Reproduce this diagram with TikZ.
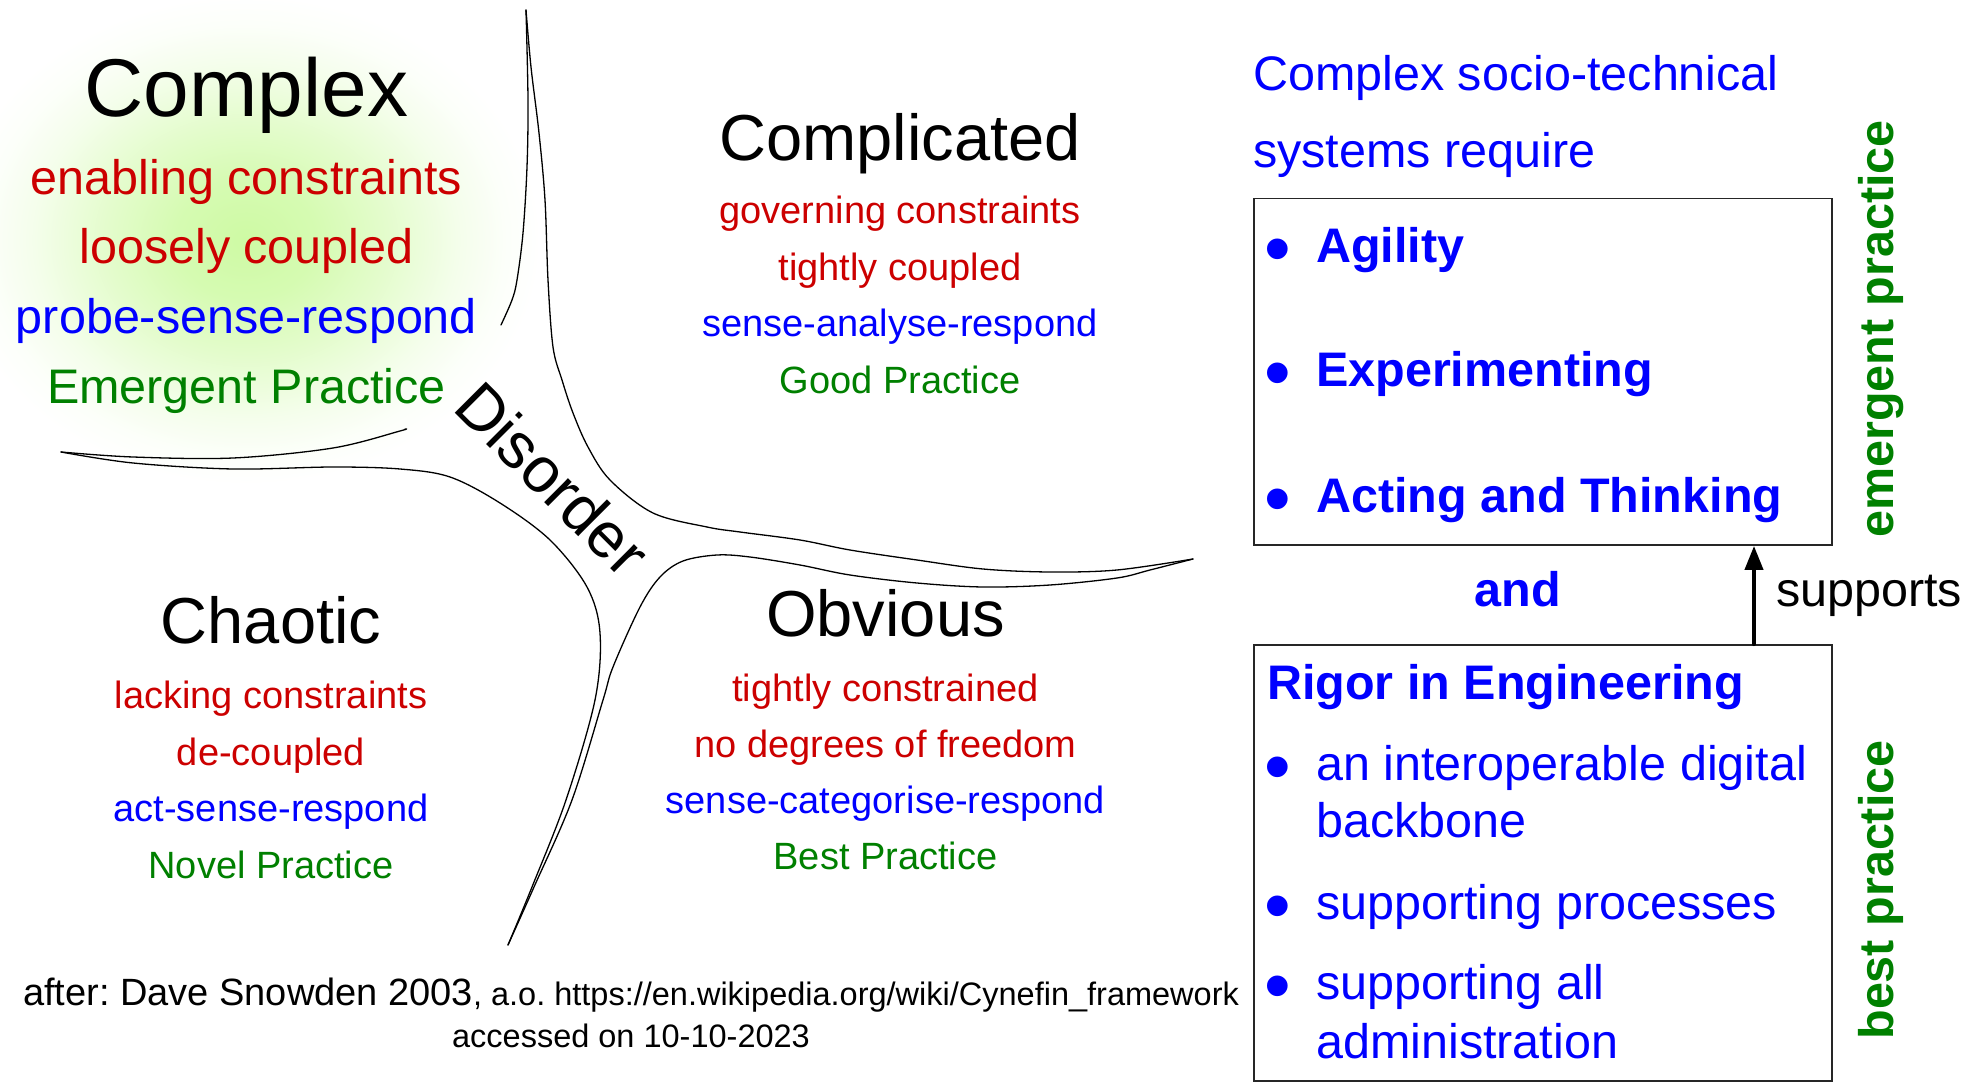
\documentclass[tikz,border=0pt]{standalone}
\usepackage{fontspec}
\setmainfont{Liberation Sans}
\usetikzlibrary{arrows.meta}
\definecolor{cred}{RGB}{204,0,0}
\definecolor{cblue}{RGB}{0,0,255}
\definecolor{cgreen}{RGB}{0,128,0}
\definecolor{glowc}{RGB}{206,250,164}
\pgfdeclareradialshading{glow}{\pgfpoint{0bp}{0bp}}{color(0bp)=(glowc); color(6bp)=(glowc!85!white); color(12bp)=(glowc!55!white); color(18bp)=(glowc!22!white); color(22bp)=(glowc!6!white); color(25bp)=(white); color(50bp)=(white)}
\tikzset{
  lbl/.style={inner sep=0pt, anchor=base},
  hd/.style={lbl, font=\fontsize{65}{70}\selectfont},
  sm/.style={lbl, font=\fontsize{38}{42}\selectfont},
  md/.style={lbl, font=\fontsize{48.5}{52}\selectfont},
  mdb/.style={lbl, font=\fontsize{48.5}{52}\selectfont\bfseries},
  bul/.style={lbl, text=cblue, font=\fontsize{76}{80}\selectfont},
  lft/.style={anchor=base west},
  rd/.style={text=cred}, bl/.style={text=cblue}, gr/.style={text=cgreen},
  frame/.style={draw=black!85, line width=1.8pt, inner sep=0pt},
  boundary/.style={draw=black, line width=1.3pt, line join=round, line cap=round},
  supp/.style={line width=4pt, line cap=round, -{Triangle[width=18pt,length=24pt]}}
}
\begin{document}
\frenchspacing
\begin{tikzpicture}[x=1pt,y=-1pt]
\useasboundingbox (0,0) rectangle (1982,1083);
\fill[white] (0,0) rectangle (1982,1083);
% glow behind Complex
\shade[shading=glow] (246,240) ellipse [x radius=295, y radius=245];

% boundary tips
\coordinate (toptip) at (526,10);
\coordinate (lefttip) at (61,452);
\coordinate (righttip) at (1193,559);
\coordinate (bottip) at (508,945);
\coordinate (topfree) at (501,325);
\coordinate (leftfree) at (405,429);

% Complex / Complicated boundary
\draw[boundary] plot[smooth, tension=0.55] coordinates {(topfree) (512,300) (517,280) (523,233) (527,167) (528,100) (toptip)};
\draw[boundary] plot[smooth, tension=0.55] coordinates {(toptip) (531,67) (539,133) (545,200) (548,280) (553,347) (562,380) (573,413) (588,447) (610,480) (653,513) (707,527) (740,532) (800,540) (850,550) (917,560) (983,569) (1050,572) (1117,570) (righttip)};
% Complex / Chaotic boundary
\draw[boundary] plot[smooth, tension=0.55] coordinates {(leftfree) (400,431) (333,448) (233,458) (133,457) (lefttip)};
\draw[boundary] plot[smooth, tension=0.55] coordinates {(lefttip) (133,463) (233,469) (333,467) (400,469) (450,477) (500,503) (550,540) (587,587) (600,633) (595,700) (566,800) (532,887) (bottip)};
% Obvious boundary
\draw[boundary] plot[smooth, tension=0.55] coordinates {(righttip) (1150,570) (1117,578) (1050,585) (983,587) (917,583) (850,575) (800,565) (750,557) (717,555) (683,561) (660,577) (640,607) (613,667) (603,700) (572,800) (534,887) (bottip)};

% Complex
\node[lbl, font=\fontsize{82}{90}\selectfont] (complex) at (246.5,117) {Complex};
\node[md, rd] (c1) at (246.5,194.5) {enabling constraints};
\node[md, rd] (c2) at (246.5,264) {loosely coupled};
\node[md, bl] (c3) at (246.5,334) {probe-sense-respond};
\node[md, gr] (c4) at (246.5,403) {Emergent Practice};

% Complicated
\node[hd] (complicated) at (900,160.5) {Complicated};
\node[sm, rd] (k1) at (900,224) {governing constraints};
\node[sm, rd] (k2) at (900,280.5) {tightly coupled};
\node[sm, bl] (k3) at (900,337) {sense-analyse-respond};
\node[sm, gr] (k4) at (900,393.5) {Good Practice};

% Chaotic
\node[hd] (chaotic) at (271,643) {Chaotic};
\node[sm, rd] (h1) at (271,708.5) {lacking constraints};
\node[sm, rd] (h2) at (271,765) {de-coupled};
\node[sm, bl] (h3) at (271,821.5) {act-sense-respond};
\node[sm, gr] (h4) at (271,878) {Novel Practice};

% Obvious
\node[hd] (obvious) at (885.5,636.5) {Obvious};
\node[sm, rd] (o1) at (885.5,701) {tightly constrained};
\node[sm, rd] (o2) at (885.5,757) {no degrees of freedom};
\node[sm, bl] (o3) at (885.5,813) {sense-categorise-respond};
\node[sm, gr] (o4) at (885.5,869) {Best Practice};

% Disorder
\node[lbl, anchor=base west, rotate=-45, font=\fontsize{64}{70}\selectfont] (disorder) at (451,409) {Disorder};

% footer
\node[sm] (foot1) at (631,1005) {after: Dave Snowden 2003{\fontsize{32.5}{36}\selectfont, a.o. https://en.wikipedia.org/wiki/Cynefin\_framework}};
\node[lbl, font=\fontsize{32.5}{36}\selectfont] (foot2) at (631,1047) {accessed on 10-10-2023};

% right side
\node[md, bl, lft] (req1) at (1253,91) {Complex socio-technical};
\node[md, bl, lft] (req2) at (1253,168) {systems require};

\node[frame, minimum width=578, minimum height=346.5] (box1) at (1543,371.75) {};
\node[bul] (b1) at (1277.5,275) {•};
\node[mdb, bl, lft] (agility) at (1316,263) {Agility};
\node[bul] (b2) at (1277.5,399) {•};
\node[mdb, bl, lft] (exper) at (1316,387) {Experimenting};
\node[bul] (b3) at (1277.5,524) {•};
\node[mdb, bl, lft] (acting) at (1316,512) {Acting and Thinking};

\node[mdb, bl] (and) at (1518,606) {and};

\node[frame, minimum width=578, minimum height=436] (box2) at (1543,863) {};
\node[mdb, bl, lft] (rigor) at (1267,699) {Rigor in Engineering};
\node[bul] (b4) at (1277.5,792) {•};
\node[md, bl, lft] (r1) at (1316,780) {an interoperable digital};
\node[md, bl, lft] (r1b) at (1316,837) {backbone};
\node[bul] (b5) at (1277.5,931) {•};
\node[md, bl, lft] (r2) at (1316,919) {supporting processes};
\node[bul] (b6) at (1277.5,1011) {•};
\node[md, bl, lft] (r3) at (1316,999) {supporting all};
\node[md, bl, lft] (r3b) at (1316,1058) {administration};

\coordinate (ax) at (1754,0);
\draw[supp] (ax |- box2.north) -- (ax |- box1.south);
\node[md, lft] (supports) at (1776,606) {supports};

\node[mdb, gr, rotate=90] (emerg) at (1893,329) {emergent practice};
\node[mdb, gr, rotate=90] (bestp) at (1893,890) {best practice};
\end{tikzpicture}
\end{document}
